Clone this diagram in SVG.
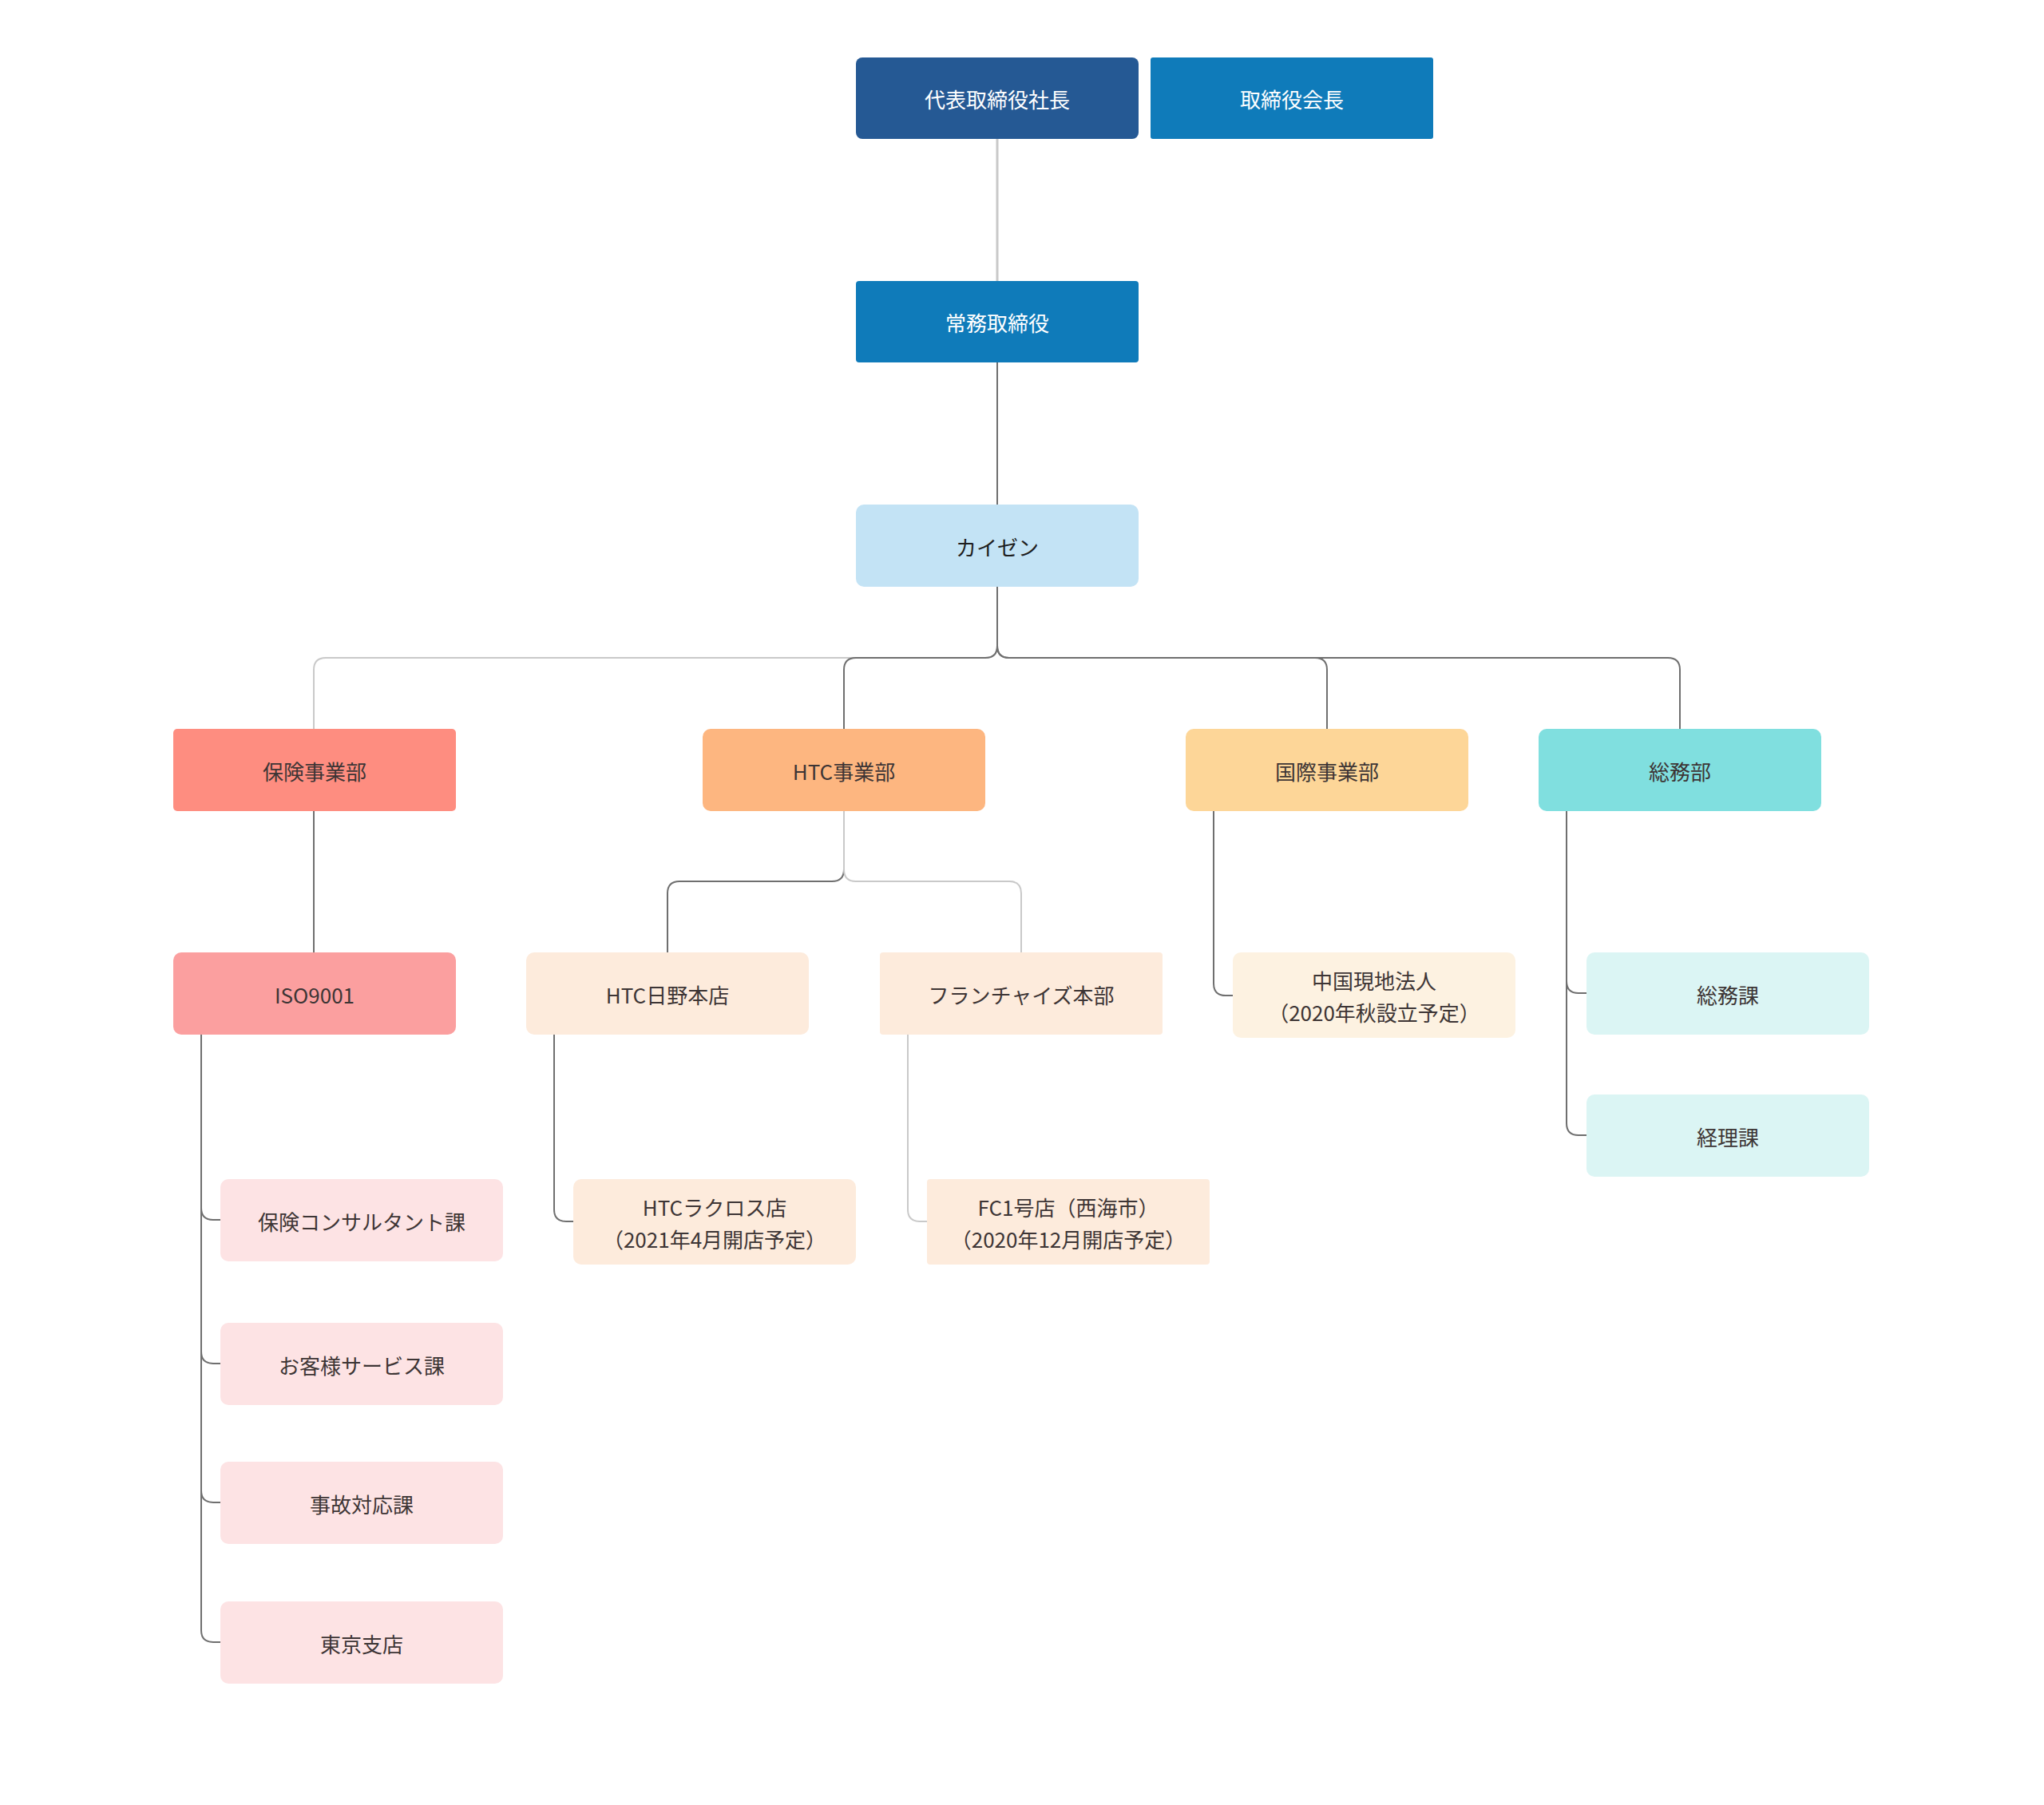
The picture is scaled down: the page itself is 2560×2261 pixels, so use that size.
<svg xmlns="http://www.w3.org/2000/svg" width="2560" height="2261" viewBox="0 0 2560 2261">
<style>
.n{stroke:none}
.t{font-family:"Noto Sans CJK JP","Noto Sans",sans-serif;font-size:26px;text-anchor:middle;dominant-baseline:central;fill:#3d3535}
.w{fill:#ffffff}
.k{fill:#1e1e1e}
.c{fill:none;stroke-width:2}
.d{stroke:#6f6f6f}
.l{stroke:#c9c9c9}
</style>
<rect width="2560" height="2261" fill="#ffffff"/>
<g id="connectors">
<path class="c l" d="M1249 174 V352" style="stroke-width:3"/>
<path class="c d" d="M1249 454 V632"/>
<path class="c l" d="M1249 735 V809 Q1249 824 1234 824 H408 Q393 824 393 839 V913"/>
<path class="c d" d="M1249 735 V809 Q1249 824 1234 824 H1072 Q1057 824 1057 839 V913"/>
<path class="c d" d="M1249 735 V809 Q1249 824 1264 824 H1647 Q1662 824 1662 839 V913"/>
<path class="c d" d="M1249 735 V809 Q1249 824 1264 824 H2089 Q2104 824 2104 839 V913"/>
<path class="c d" d="M1057 1016 V1089 Q1057 1104 1042 1104 H851 Q836 1104 836 1119 V1193"/>
<path class="c l" d="M1057 1016 V1089 Q1057 1104 1072 1104 H1264 Q1279 1104 1279 1119 V1193"/>
<path class="c d" d="M393 1016 V1193"/>
<path class="c d" d="M252 1296 V1513 Q252 1528 267 1528 H276"/>
<path class="c d" d="M252 1296 V1693 Q252 1708 267 1708 H276"/>
<path class="c d" d="M252 1296 V1867 Q252 1882 267 1882 H276"/>
<path class="c d" d="M252 1296 V2042 Q252 2057 267 2057 H276"/>
<path class="c d" d="M694 1296 V1515 Q694 1530 709 1530 H718"/>
<path class="c l" d="M1137 1296 V1515 Q1137 1530 1152 1530 H1161"/>
<path class="c d" d="M1520 1016 V1232 Q1520 1247 1535 1247 H1544"/>
<path class="c d" d="M1962 1016 V1229 Q1962 1244 1977 1244 H1987"/>
<path class="c d" d="M1962 1016 V1407 Q1962 1422 1977 1422 H1987"/>
</g>
<g id="n-president"><rect x="1072" y="72" width="354" height="102" rx="8" fill="#255994"/><text class="t w" x="1249" y="123">代表取締役社長</text></g>
<g id="n-chairman"><rect x="1441" y="72" width="354" height="102" rx="3" fill="#0f7bba"/><text class="t w" x="1618" y="123">取締役会長</text></g>
<g id="n-managing"><rect x="1072" y="352" width="354" height="102" rx="4" fill="#0f7bba"/><text class="t w" x="1249" y="403">常務取締役</text></g>
<g id="n-kaizen"><rect x="1072" y="632" width="354" height="103" rx="10" fill="#c3e3f5"/><text class="t k" x="1249" y="684">カイゼン</text></g>
<g id="n-hoken"><rect x="217" y="913" width="354" height="103" rx="5" fill="#fe8d80"/><text class="t" x="394" y="965">保険事業部</text></g>
<g id="n-htc"><rect x="880" y="913" width="354" height="103" rx="10" fill="#fdb680"/><text class="t" x="1057" y="965">HTC事業部</text></g>
<g id="n-kokusai"><rect x="1485" y="913" width="354" height="103" rx="10" fill="#fdd698"/><text class="t" x="1662" y="965">国際事業部</text></g>
<g id="n-somubu"><rect x="1927" y="913" width="354" height="103" rx="10" fill="#80dfdf"/><text class="t" x="2104" y="965">総務部</text></g>
<g id="n-iso"><rect x="217" y="1193" width="354" height="103" rx="10" fill="#fb9f9f"/><text class="t" x="394" y="1245">ISO9001</text></g>
<g id="n-hino"><rect x="659" y="1193" width="354" height="103" rx="10" fill="#fdebdc"/><text class="t" x="836" y="1245">HTC日野本店</text></g>
<g id="n-franchise"><rect x="1102" y="1193" width="354" height="103" rx="4" fill="#fdebdc"/><text class="t" x="1279" y="1245">フランチャイズ本部</text></g>
<g id="n-china"><rect x="1544" y="1193" width="354" height="107" rx="10" fill="#fdf2e1"/><text class="t" x="1721" y="1227">中国現地法人</text><text class="t" x="1721" y="1267">（2020年秋設立予定）</text></g>
<g id="n-somuka"><rect x="1987" y="1193" width="354" height="103" rx="10" fill="#dbf5f4"/><text class="t" x="2164" y="1245">総務課</text></g>
<g id="n-keiri"><rect x="1987" y="1371" width="354" height="103" rx="10" fill="#dbf5f4"/><text class="t" x="2164" y="1423">経理課</text></g>
<g id="n-consult"><rect x="276" y="1477" width="354" height="103" rx="10" fill="#fde3e4"/><text class="t" x="453" y="1529">保険コンサルタント課</text></g>
<g id="n-lacross"><rect x="718" y="1477" width="354" height="107" rx="10" fill="#fdebdc"/><text class="t" x="895" y="1511">HTCラクロス店</text><text class="t" x="895" y="1551">（2021年4月開店予定）</text></g>
<g id="n-fc1"><rect x="1161" y="1477" width="354" height="107" rx="4" fill="#fdebdc"/><text class="t" x="1338" y="1511">FC1号店（西海市）</text><text class="t" x="1338" y="1551">（2020年12月開店予定）</text></g>
<g id="n-service"><rect x="276" y="1657" width="354" height="103" rx="10" fill="#fde3e4"/><text class="t" x="453" y="1709">お客様サービス課</text></g>
<g id="n-accident"><rect x="276" y="1831" width="354" height="103" rx="10" fill="#fde3e4"/><text class="t" x="453" y="1883">事故対応課</text></g>
<g id="n-tokyo"><rect x="276" y="2006" width="354" height="103" rx="10" fill="#fde3e4"/><text class="t" x="453" y="2058">東京支店</text></g>
</svg>
